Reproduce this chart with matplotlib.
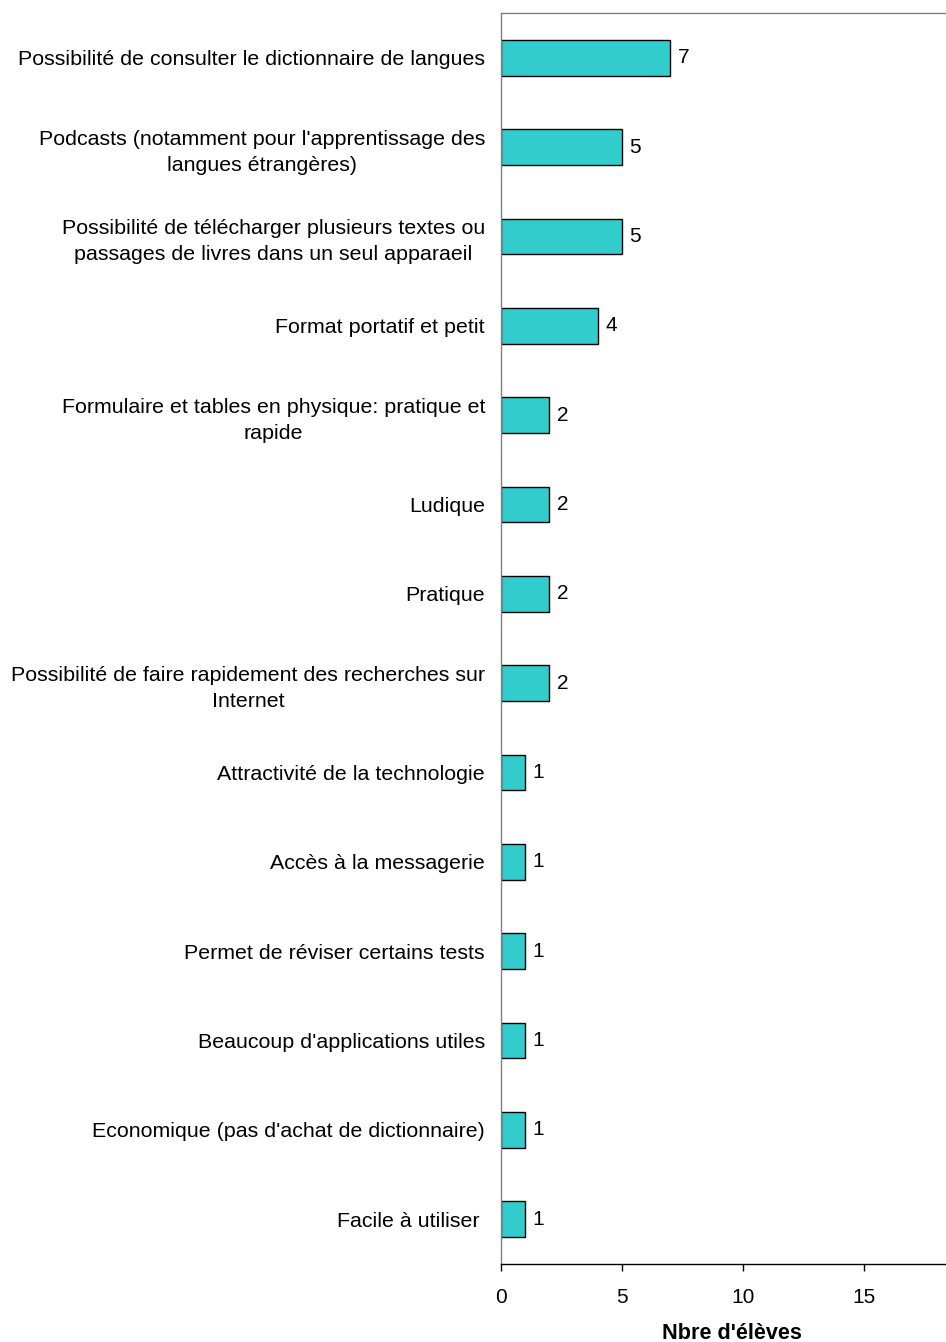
import matplotlib
matplotlib.use("Agg")
import matplotlib.pyplot as plt

plt.rcParams['font.family'] = ['Liberation Sans', 'DejaVu Sans']

categories = [
    "Possibilité de consulter le dictionnaire de langues",
    "Podcasts (notamment pour l'apprentissage des\nlangues étrangères)",
    "Possibilité de télécharger plusieurs textes ou\npassages de livres dans un seul apparaeil",
    "Format portatif et petit",
    "Formulaire et tables en physique: pratique et\nrapide",
    "Ludique",
    "Pratique",
    "Possibilité de faire rapidement des recherches sur\nInternet",
    "Attractivité de la technologie",
    "Accès à la messagerie",
    "Permet de réviser certains tests",
    "Beaucoup d'applications utiles",
    "Economique (pas d'achat de dictionnaire)",
    "Facile à utiliser ",
]
values = [7, 5, 5, 4, 2, 2, 2, 2, 1, 1, 1, 1, 1, 1]
x_ticks = [0, 5, 10, 15]
x_label = "Nbre d'élèves"

FS = 15.0
FS_CAT = 15.4

W, H = 946, 1342
fig = plt.figure(figsize=(W / 100, H / 100), dpi=100)
left, right, top, bottom = 501, 501 + 20 * 24.2, 13, 1264
ax = fig.add_axes([left / W, 1 - bottom / H, (right - left) / W, (bottom - top) / H])

ypos = list(range(len(categories)))
ax.barh(ypos, values, height=0.4, color="#33CCCC", edgecolor="black", linewidth=1.0)
for y, v in zip(ypos, values):
    ax.text(v + 0.3, y, str(v), va="center", ha="left", fontsize=FS)

ax.set_ylim(len(categories) - 0.5, -0.5)
ax.set_xlim(0, 20)
ax.set_yticks(ypos)
ax.set_yticklabels(categories, fontsize=FS_CAT, multialignment="center", linespacing=1.45)
ax.tick_params(axis="y", length=0, pad=11.5)
ax.set_xticks(x_ticks)
ax.tick_params(axis="x", direction="out", length=5, width=1, labelsize=FS, pad=12)
ax.set_xlabel(x_label, fontsize=15.6, fontweight="bold", labelpad=13)
ax.xaxis.set_label_coords(0.477, -0.0475)

for side in ["left", "top", "right"]:
    ax.spines[side].set_color("#808080")
    ax.spines[side].set_linewidth(1.0)
ax.spines["bottom"].set_color("black")
ax.spines["bottom"].set_linewidth(1.0)

fig.savefig("out.png", dpi=100)
